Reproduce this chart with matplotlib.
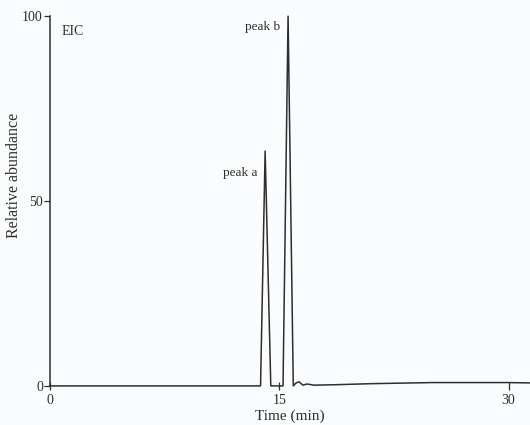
"""Extracted ion chromatogram (EIC) with two resolved peaks."""

import matplotlib

matplotlib.use("Agg")
import matplotlib.pyplot as plt

# trace vertices (time in min, relative abundance)
TIME_MIN = [0.0, 13.78, 14.08, 14.45, 15.25, 15.58, 15.92, 16.1, 16.3, 16.55,
            16.8, 17.0, 17.25, 18.5, 21.0, 25.0, 30.0, 31.5]
ABUNDANCE = [0.0, 0.0, 63.5, 0.0, 0.0, 100.0, 0.0, 0.8, 1.1, 0.2,
             0.5, 0.4, 0.2, 0.3, 0.6, 0.9, 0.9, 0.8]

X_TICKS = [0, 15, 30]
Y_TICKS = [0, 50, 100]

# label, time and abundance where each peak label sits
PEAK_LABELS = [("peak a", 13.6, 57.5), ("peak b", 15.05, 97.0)]

INK = "#2e2e2e"

plt.rcParams.update(
    {
        "font.family": ["Liberation Serif", "DejaVu Serif"],
        "figure.facecolor": "#fbfcfd",
        "axes.facecolor": "#fbfcfd",
    }
)

fig = plt.figure(figsize=(5.3, 4.25), dpi=100)
ax = fig.add_axes([0.094, 0.092, 0.906, 0.870])

ax.plot(TIME_MIN, ABUNDANCE, color=INK, linewidth=1.1, clip_on=False)

ax.set_xlim(0, 31.4)
ax.set_ylim(0, 100)
ax.set_xticks(X_TICKS)
ax.set_yticks(Y_TICKS)

for side in ("top", "right", "bottom"):
    ax.spines[side].set_visible(False)
ax.spines["left"].set_color(INK)
ax.spines["left"].set_linewidth(1.1)

ax.tick_params(axis="x", direction="inout", length=6, width=0.9, colors=INK,
               labelsize=10, pad=3)
ax.tick_params(axis="y", direction="out", length=4, width=0.9, colors=INK,
               labelsize=10, pad=1)

ax.set_xlabel("Time (min)", fontsize=11, color=INK, labelpad=2)
ax.set_ylabel("Relative abundance", fontsize=11.5, color=INK)
ax.yaxis.set_label_coords(-0.058, 0.57)

ax.text(0.025, 0.975, "EIC", transform=ax.transAxes, ha="left", va="top",
        fontsize=10, color=INK)

for label, t, h in PEAK_LABELS:
    ax.text(t, h, label, ha="right", va="center", fontsize=9.5, color=INK)

fig.savefig("out.png", dpi=100)
